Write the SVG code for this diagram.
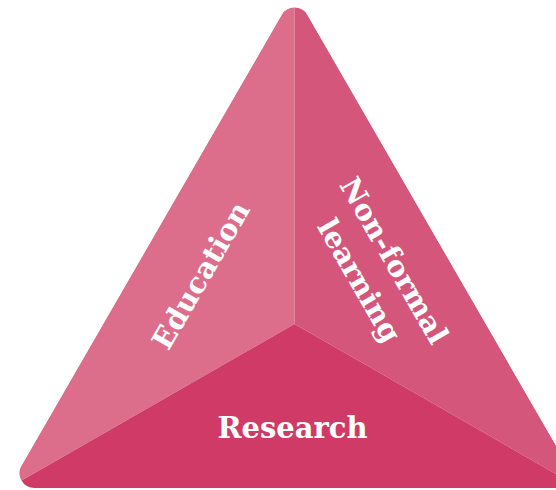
<svg xmlns="http://www.w3.org/2000/svg" width="556" height="490" viewBox="0 0 556 490">
  <style>
    .lbl { font-family: "DejaVu Serif", "Liberation Serif", serif; font-weight: bold; fill: #ffffff; text-anchor: middle; }
  </style>
  <defs>
    <clipPath id="tri">
      <path d="M 281.5 15 A 15 15 0 0 1 307.5 15 L 567.5 465.5 A 15 15 0 0 1 554.5 488 L 34.5 488 A 15 15 0 0 1 21.5 465.5 Z"/>
    </clipPath>
  </defs>
  <rect width="556" height="490" fill="#ffffff"/>
  <g clip-path="url(#tri)">
    <g id="education">
      <polygon points="294.5,-7.5 294.5,324 8.5,488" fill="#dc6e8c"/>
    </g>
    <g id="nonformal">
      <polygon points="294.5,-7.5 580.5,488 294.5,324" fill="#d5567b"/>
    </g>
    <g id="research">
      <polygon points="8.5,488 294.5,324 580.5,488" fill="#cf3a66"/>
    </g>
  </g>
  <g id="connectors"/>
  <g id="labels">
    <g transform="translate(200,275) rotate(-60)">
      <text class="lbl" x="0" y="11" font-size="29">Education</text>
    </g>
    <g transform="translate(377.5,270) rotate(60)">
      <text class="lbl" x="0" y="-9" font-size="29">Non-formal</text>
      <text class="lbl" x="0" y="31" font-size="29">learning</text>
    </g>
    <text class="lbl" x="292.5" y="438" font-size="29">Research</text>
  </g>
</svg>
